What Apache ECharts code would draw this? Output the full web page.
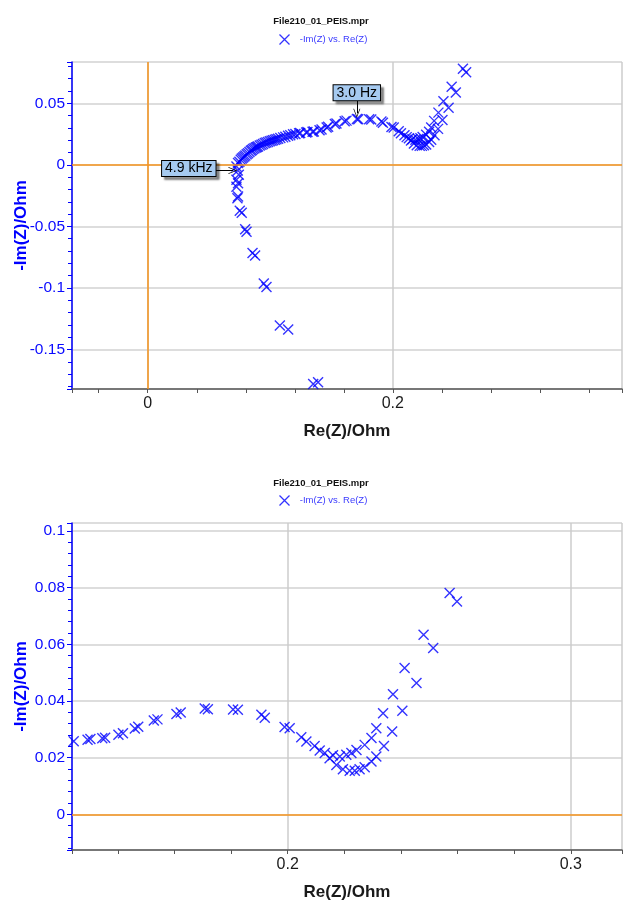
<!DOCTYPE html>
<html>
<head>
<meta charset="utf-8">
<script src="https://cdn.jsdelivr.net/npm/echarts@6/dist/echarts.min.js"></script>
<style>
html, body { margin: 0; padding: 0; background: #fff; }
#peis-chart { width: 623px; height: 901px; }
</style>
</head>
<body>
<div id="peis-chart"></div>
<script>
// Nyquist data, two sweeps
var reZ1 = [0.1350, 0.1078, 0.0947, 0.0855, 0.0795, 0.0751, 0.0732, 0.0724, 0.0724, 0.0735,
            0.0737, 0.0759, 0.0778, 0.0797, 0.0819, 0.0841, 0.0860, 0.0882, 0.0900, 0.0928,
            0.0955, 0.0982, 0.1010, 0.1037, 0.1064, 0.1105, 0.1145, 0.1186,
            0.1235, 0.1293, 0.1345, 0.1402, 0.1460, 0.1527, 0.1607, 0.1707, 0.1807, 0.1907, 0.1989,
            0.2048, 0.2095, 0.2131, 0.2160, 0.2184, 0.2207, 0.2225, 0.2243, 0.2272, 0.2296,
            0.2313, 0.2337, 0.2372, 0.2413, 0.2480, 0.2572];
var imZ1 = [-0.1780, -0.1304, -0.0964, -0.0715, -0.0522, -0.0372, -0.0272, -0.0177, -0.0122, -0.0046,
            0.0014, 0.0041, 0.0060, 0.0076, 0.0095, 0.0114, 0.0128, 0.0141, 0.0149, 0.0163,
            0.0177, 0.0185, 0.0196, 0.0204, 0.0212, 0.0223, 0.0236, 0.0248,
            0.0256, 0.0263, 0.0268, 0.0281, 0.0303, 0.0331, 0.0354, 0.0373, 0.0370, 0.0351, 0.0308,
            0.0272, 0.0241, 0.0216, 0.0208, 0.0204, 0.0210, 0.0216, 0.0227, 0.0245, 0.0269,
            0.0304, 0.0357, 0.0424, 0.0516, 0.0634, 0.0781];
var reZ2 = [0.1390, 0.1146, 0.0969, 0.0876, 0.0806, 0.0767, 0.0737, 0.0737, 0.0743, 0.0724,
            0.0748, 0.0768, 0.0788, 0.0808, 0.0830, 0.0850, 0.0871, 0.0891, 0.0914, 0.0941,
            0.0968, 0.0996, 0.1023, 0.1050, 0.1082, 0.1123, 0.1163, 0.1205,
            0.1244, 0.1303, 0.1355, 0.1418, 0.1472, 0.1540, 0.1622, 0.1718, 0.1824, 0.1919, 0.2007,
            0.2066, 0.2113, 0.2148, 0.2172, 0.2195, 0.2219, 0.2237, 0.2254, 0.2272, 0.2296,
            0.2313, 0.2340, 0.2369, 0.2405, 0.2455, 0.2514, 0.2598];
var imZ2 = [-0.1765, -0.1337, -0.0992, -0.0736, -0.0543, -0.0389, -0.0258, -0.0149, -0.0081, -0.0014,
            0.0025, 0.0052, 0.0068, 0.0086, 0.0104, 0.0120, 0.0134, 0.0145, 0.0157, 0.0170,
            0.0181, 0.0191, 0.0200, 0.0208, 0.0217, 0.0229, 0.0241, 0.0251,
            0.0258, 0.0266, 0.0270, 0.0286, 0.0309, 0.0335, 0.0359, 0.0371, 0.0369, 0.0341, 0.0304,
            0.0257, 0.0225, 0.0198, 0.0174, 0.0159, 0.0154, 0.0154, 0.0159, 0.0166, 0.0186,
            0.0204, 0.0241, 0.0292, 0.0365, 0.0463, 0.0587, 0.0751];

// axis ranges and label steps
var topX = [-0.0618, 0.387],  topXStep = 0.2;
var topY = [-0.182, 0.0835],  topYStep = 0.05;
var zoomX = [0.1238, 0.3181], zoomXStep = 0.1;
var zoomY = [-0.0126, 0.1028], zoomYStep = 0.02;

// frequency annotations (top plot)
var annoText = ['4.9 kHz', '3.0 Hz'];
var annoAt   = [[0.0735, -0.0046], [0.1706, 0.0375]];
var annoFrom = [[0.0555, -0.0046], [0.1706, 0.0520]];
var annoTo   = [[0.0695, -0.0046], [0.1706, 0.0418]];

var TITLE = 'File210_01_PEIS.mpr';
var SERIES_NAME = '-Im(Z) vs. Re(Z)';
var FONT = '"Liberation Sans", Arial, sans-serif';
var BLUE = '#0000ff';
var ORANGE = '#f7941d';
var CROSS = 'path://M0,0L10,10M10,0L0,10';
var ARROW = 'path://M0,10L5,0L10,10L9,10L5,2L1,10Z';

var points = [];
reZ1.forEach(function (x, i) { points.push([x, imZ1[i]]); });
reZ2.forEach(function (x, i) { points.push([x, imZ2[i]]); });

function majorOnly(step) {
    return function (v) {
        var k = v / step;
        if (Math.abs(k - Math.round(k)) > 1e-6) return '';
        return String(+(Math.round(k) * step).toFixed(6));
    };
}

function xAxisOf(grid, range, step) {
    return {
        type: 'value', gridIndex: grid,
        min: range[0], max: range[1],
        minInterval: step, maxInterval: step,
        name: 'Re(Z)/Ohm', nameLocation: 'middle', nameGap: 34, nameMoveOverlap: false,
        nameTextStyle: { color: '#1a1a1a', fontSize: 17, fontWeight: 'bold', fontFamily: FONT },
        axisLine: { onZero: false, lineStyle: { color: '#555', width: 1.5 } },
        axisTick: { length: 4, lineStyle: { color: '#555' } },
        minorTick: { show: true, splitNumber: 5, length: 4, lineStyle: { color: '#555' } },
        axisLabel: { formatter: majorOnly(step), color: '#1a1a1a', fontSize: 16, margin: 7, fontFamily: FONT },
        splitLine: { show: true, lineStyle: { color: '#cdcdcd', width: 1.5 } }
    };
}

function yAxisOf(grid, range, step) {
    return {
        type: 'value', gridIndex: grid,
        min: range[0], max: range[1],
        minInterval: step, maxInterval: step,
        name: '-Im(Z)/Ohm', nameLocation: 'middle', nameGap: 42, nameMoveOverlap: false,
        nameTextStyle: { color: BLUE, fontSize: 17, fontWeight: 'bold', fontFamily: FONT },
        axisLine: { onZero: false, lineStyle: { color: '#0000ff', width: 1.5 } },
        axisTick: { length: 5, lineStyle: { color: '#0000ff' } },
        minorTick: { show: true, splitNumber: 5, length: 4, lineStyle: { color: '#0000ff' } },
        axisLabel: { formatter: majorOnly(step), color: '#0a0aff', fontSize: 15.5, margin: 7, fontFamily: FONT },
        splitLine: { show: true, lineStyle: { color: '#d2d2d2', width: 1.5 } }
    };
}

function titleAt(top) {
    return {
        text: TITLE, left: 321, top: top, textAlign: 'center', padding: 0,
        textStyle: { fontSize: 9.5, fontWeight: 'bold', color: '#111', fontFamily: FONT }
    };
}

function legendAt(top) {
    return {
        data: [SERIES_NAME], left: 277, top: top, padding: 0,
        icon: CROSS, itemWidth: 10, itemHeight: 10,
        itemStyle: { color: 'none', borderColor: BLUE, borderWidth: 1.3 },
        formatter: function (n) { return '  ' + n; },
        textStyle: { color: '#3a3aff', fontSize: 9.5, fontFamily: FONT }
    };
}

function nyquist(grid, originLines) {
    return {
        type: 'scatter', name: SERIES_NAME,
        xAxisIndex: grid, yAxisIndex: grid,
        data: points, symbol: CROSS, symbolSize: 10,
        itemStyle: { color: 'none', borderColor: BLUE, borderWidth: 1.4 },
        emphasis: { disabled: true },
        markLine: {
            silent: true, symbol: 'none', animation: false,
            label: { show: false },
            lineStyle: { color: ORANGE, width: 1.5, type: 'solid' },
            data: originLines
        }
    };
}

var annoPoints = annoText.map(function (t, i) {
    return { name: t, coord: annoAt[i], label: { offset: i === 0 ? [-49, -2] : [0, -26] } };
});
var annoArrows = annoText.map(function (t, i) {
    return [{ coord: annoFrom[i] }, { coord: annoTo[i] }];
});

var chart = echarts.init(document.getElementById('peis-chart'));

var option = {
    animation: false,
    title: [titleAt(16), titleAt(478)],
    legend: [legendAt(32), legendAt(493)],
    grid: [
        { left: 72, top: 62, width: 550, height: 327, containLabel: false, outerBoundsMode: 'none' },
        { left: 72, top: 523, width: 550, height: 327, containLabel: false, outerBoundsMode: 'none' }
    ],
    xAxis: [xAxisOf(0, topX, topXStep), xAxisOf(1, zoomX, zoomXStep)],
    yAxis: [yAxisOf(0, topY, topYStep), yAxisOf(1, zoomY, zoomYStep)],
    series: [
        nyquist(0, [{ xAxis: 0 }, { yAxis: 0 }]),
        nyquist(1, [{ yAxis: 0 }]),
        {
            type: 'scatter', name: 'annotations',
            xAxisIndex: 0, yAxisIndex: 0, data: [], z: 5,
            markPoint: {
                silent: true, animation: false,
                symbol: 'rect', symbolSize: 1,
                itemStyle: { color: 'rgba(0,0,0,0)' },
                label: {
                    show: true, position: 'inside',
                    formatter: function (p) { return p.name; },
                    color: '#000', fontSize: 14, fontFamily: FONT, lineHeight: 14,
                    backgroundColor: '#a6caf0', borderColor: '#000', borderWidth: 1,
                    padding: [1, 3, 0, 3],
                    shadowColor: 'rgba(0,0,0,0.4)', shadowOffsetX: 3, shadowOffsetY: 3, shadowBlur: 2
                },
                data: annoPoints
            },
            markLine: {
                silent: true, animation: false,
                symbol: ['none', ARROW], symbolSize: [7, 9],
                label: { show: false },
                lineStyle: { color: '#000', width: 1, type: 'solid' },
                data: annoArrows
            }
        }
    ]
};

chart.setOption(option);
</script>
</body>
</html>
